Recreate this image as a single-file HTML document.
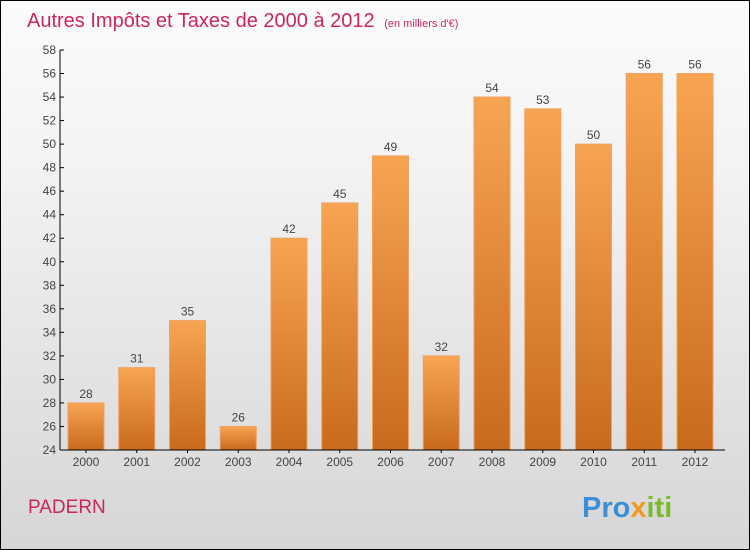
<!DOCTYPE html>
<html><head><meta charset="utf-8"><style>
body{margin:0}
#c{width:750px;height:550px;position:relative;box-sizing:border-box;border:1px solid #000;background:linear-gradient(#fbfbfb,#f3f3f3 30%,#d6d6d6);font-family:"Liberation Sans","DejaVu Sans",sans-serif;overflow:hidden}
</style></head><body>
<div id="c">
<svg width="750" height="550" style="position:absolute;left:-1px;top:-1px" id="svg">
<defs><linearGradient id="g" x1="0" y1="0" x2="0" y2="1"><stop offset="0" stop-color="#f7a553"/><stop offset="1" stop-color="#c96a1c"/></linearGradient></defs>
<text x="27" y="27" font-size="20" fill="#c8285c">Autres Impôts et Taxes de 2000 à 2012 <tspan font-size="11" dx="4">(en milliers d'€)</tspan></text>
<text x="28" y="513" font-size="19" fill="#c8285c">PADERN</text>
<text x="582" y="517" font-size="29" font-weight="bold"><tspan fill="#3b8fd6">Pro</tspan><tspan fill="#f39a1e">x</tspan><tspan fill="#7bbb2a">iti</tspan></text>
<g id="plot"></g>
</svg>
</div>
<script>
const categories=["2000","2001","2002","2003","2004","2005","2006","2007","2008","2009","2010","2011","2012"];
const values=[28,31,35,26,42,45,49,32,54,53,50,56,56];
const yTicks=[24,26,28,30,32,34,36,38,40,42,44,46,48,50,52,54,56,58];
const ns="http://www.w3.org/2000/svg";
const plotG=document.getElementById('plot');
const x0=60,yMin=24,yMax=58,plotTop=50,plotBot=450,step=50.75,bw=36;
const yS=v=>plotBot-(v-yMin)/(yMax-yMin)*(plotBot-plotTop);
const xc=i=>86+i*step;
function mk(t,a){const e=document.createElementNS(ns,t);for(const k in a)e.setAttribute(k,a[k]);plotG.appendChild(e);return e;}
values.forEach((v,i)=>{
 const r=mk('rect',{x:xc(i)-bw/2,y:yS(v),width:bw,height:plotBot-yS(v),fill:'url(#g)',stroke:'#f0a060','stroke-width':1});
 
 
 const t=mk('text',{x:xc(i),y:yS(v)-5,'text-anchor':'middle','font-size':12,fill:'#444'});
 t.textContent=v;
 
 
 const l=mk('text',{x:xc(i),y:plotBot+16,'text-anchor':'middle','font-size':12,fill:'#444'});
 l.textContent=categories[i];
 
 
 mk('line',{x1:xc(i),x2:xc(i),y1:plotBot,y2:plotBot+3,stroke:'#000'});
});
yTicks.forEach(v=>{
 mk('line',{x1:x0,x2:x0+4,y1:yS(v),y2:yS(v),stroke:'#000'});
 const t=mk('text',{x:x0-4,y:yS(v)+4,'text-anchor':'end','font-size':12,fill:'#444'});
 t.textContent=v;
 
 
});
const ya=mk('line',{x1:x0,x2:x0,y1:plotTop,y2:plotBot,stroke:'#000'});


const xa=mk('line',{x1:x0,x2:725,y1:plotBot,y2:plotBot,stroke:'#000'});


</script>
</body></html>
